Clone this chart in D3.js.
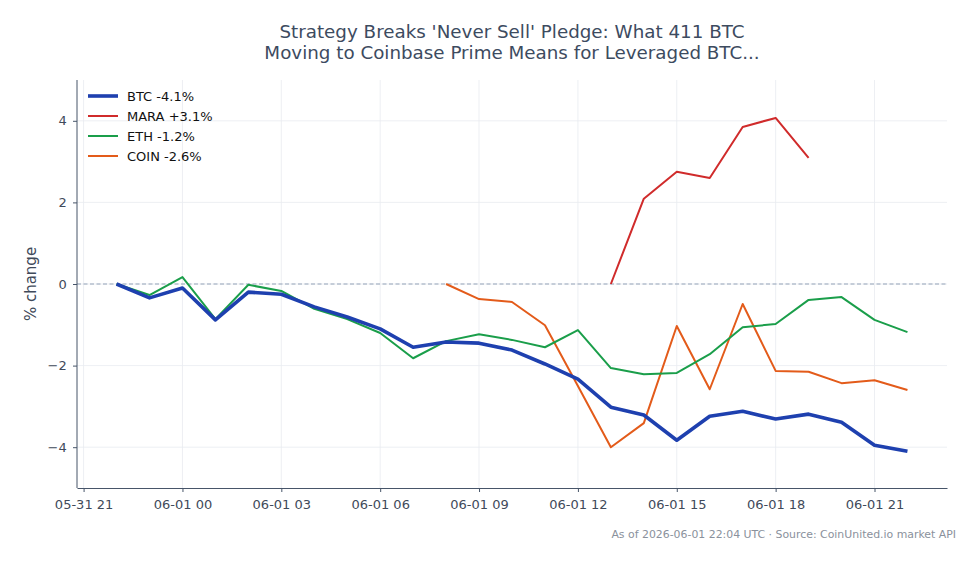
<!DOCTYPE html>
<html>
<head>
<meta charset="utf-8">
<script src="https://cdn.jsdelivr.net/npm/d3@7"></script>
<style>
  body { margin: 0; background: #fff; }
  svg { font-family: "DejaVu Sans", sans-serif; }
</style>
</head>
<body>
<svg id="chart" width="979" height="564"></svg>
<script>
// hourly points, 05-31 22:00 .. 06-01 22:00 (UTC)
const hours = d3.range(25).map(i => new Date(Date.UTC(2026, 4, 31, 22 + i)));

const btc = [0, -0.34, -0.1, -0.88, -0.2, -0.25, -0.56, -0.81, -1.1, -1.55, -1.42, -1.45, -1.62,
  -1.96, -2.33, -3.02, -3.21, -3.83, -3.24, -3.12, -3.31, -3.19, -3.39, -3.95, -4.1];
const eth = [0, -0.27, 0.17, -0.86, -0.02, -0.17, -0.61, -0.86, -1.2, -1.82, -1.4, -1.23, -1.37,
  -1.55, -1.13, -2.06, -2.21, -2.18, -1.72, -1.06, -0.98, -0.39, -0.32, -0.88, -1.18];
// COIN starts at 08:00, MARA at 13:00
const coin = [0, -0.37, -0.44, -1.01, -2.5, -4.0, -3.41, -1.03, -2.58, -0.49, -2.13, -2.15, -2.43, -2.36, -2.6];
const mara = [0, 2.09, 2.75, 2.6, 3.85, 4.07, 3.09];

const series = [
  { name: "BTC -4.1%", color: "#1e40af", width: 3.6, start: 0, values: btc },
  { name: "MARA +3.1%", color: "#d02b2b", width: 2, start: 15, values: mara },
  { name: "ETH -1.2%", color: "#1a9e4a", width: 2, start: 0, values: eth },
  { name: "COIN -2.6%", color: "#e35b1a", width: 2, start: 10, values: coin }
];
const drawOrder = [3, 2, 1, 0]; // BTC on top

const yTicks = [-4, -2, 0, 2, 4];

const svg = d3.select("#chart"),
      margin = { top: 80, right: 32, bottom: 76, left: 77 },
      width = +svg.attr("width") - margin.left - margin.right,
      height = +svg.attr("height") - margin.top - margin.bottom;

const g = svg.append("g").attr("transform", `translate(${margin.left},${margin.top})`);

const t0 = hours[0], t1 = hours[hours.length - 1];
const pad = (t1 - t0) * 0.05;
const x = d3.scaleUtc().domain([new Date(+t0 - pad), new Date(+t1 + pad)]).range([0, width]);
const y = d3.scaleLinear().domain([-5, 5]).range([height, 0]);

const xTicks = d3.range(9).map(i => new Date(Date.UTC(2026, 4, 31, 21 + i * 3)));
const fmt = d3.utcFormat("%m-%d %H");

// grid
g.append("g").selectAll("line").data(xTicks).enter().append("line")
  .attr("x1", d => x(d)).attr("x2", d => x(d))
  .attr("y1", 0).attr("y2", height)
  .attr("stroke", "#e8ebf0").attr("stroke-width", 0.8);
g.append("g").selectAll("line").data(yTicks).enter().append("line")
  .attr("x1", 0).attr("x2", width)
  .attr("y1", d => y(d)).attr("y2", d => y(d))
  .attr("stroke", "#e8ebf0").attr("stroke-width", 0.8);

// zero line
g.append("line")
  .attr("x1", 0).attr("x2", width)
  .attr("y1", y(0)).attr("y2", y(0))
  .attr("stroke", "#94a3b8").attr("stroke-width", 1)
  .attr("stroke-dasharray", "4,2.5");

const line = d3.line().x(d => x(d.t)).y(d => y(d.v));

drawOrder.forEach(i => {
  const s = series[i];
  const pts = s.values.map((v, k) => ({ t: hours[s.start + k], v }));
  g.append("path")
    .attr("d", line(pts))
    .attr("fill", "none")
    .attr("stroke", s.color)
    .attr("stroke-width", s.width)
    .attr("stroke-linejoin", "round");
});

// axes
const axisColor = "#475569";
const xAxisG = g.append("g")
  .attr("transform", `translate(0,${height})`)
  .call(d3.axisBottom(x).tickValues(xTicks).tickFormat(fmt).tickSize(4).tickSizeOuter(0));
const yAxisG = g.append("g")
  .call(d3.axisLeft(y).tickValues(yTicks).tickFormat(d => d < 0 ? "\u2212" + Math.abs(d) : d).tickSize(4).tickSizeOuter(0));

[xAxisG, yAxisG].forEach(a => {
  a.select(".domain").attr("stroke", axisColor).attr("stroke-width", 1);
  a.selectAll(".tick line").attr("stroke", axisColor);
  a.selectAll(".tick text").attr("fill", "#3f4a5a").style("font-size", "13px")
    .style("font-family", "DejaVu Sans");
});
xAxisG.selectAll(".tick text").attr("dy", "1.05em");
yAxisG.selectAll(".tick text").attr("dx", "-0.25em");
yAxisG.select(".domain").attr("d", `M0,${height}V0`);

// y label
svg.append("text")
  .attr("transform", "rotate(-90)")
  .attr("x", -(margin.top + height / 2))
  .attr("y", 36)
  .attr("text-anchor", "middle")
  .attr("fill", "#3f4a5a")
  .style("font-size", "15px")
  .text("% change");

// title
const title = svg.append("text")
  .attr("text-anchor", "middle")
  .attr("fill", "#3d4b5f")
  .style("font-size", "18.3px");
title.append("tspan").attr("x", 512).attr("y", 38)
  .text("Strategy Breaks 'Never Sell' Pledge: What 411 BTC");
title.append("tspan").attr("x", 512).attr("y", 59)
  .text("Moving to Coinbase Prime Means for Leveraged BTC...");

// footer
svg.append("text")
  .attr("x", 956).attr("y", 538)
  .attr("text-anchor", "end")
  .attr("fill", "#8a919c")
  .style("font-size", "10.9px")
  .text("As of 2026-06-01 22:04 UTC \u00b7 Source: CoinUnited.io market API");

// legend
const legend = svg.append("g").attr("transform", "translate(88,96)");
series.forEach((s, i) => {
  const row = legend.append("g").attr("transform", `translate(0,${i * 20})`);
  row.append("line")
    .attr("x1", 0).attr("x2", 30).attr("y1", 0).attr("y2", 0)
    .attr("stroke", s.color).attr("stroke-width", s.width);
  row.append("text")
    .attr("x", 39).attr("y", 0).attr("dy", "0.36em")
    .attr("fill", "#111")
    .style("font-size", "13px")
    .text(s.name);
});
</script>
</body>
</html>
